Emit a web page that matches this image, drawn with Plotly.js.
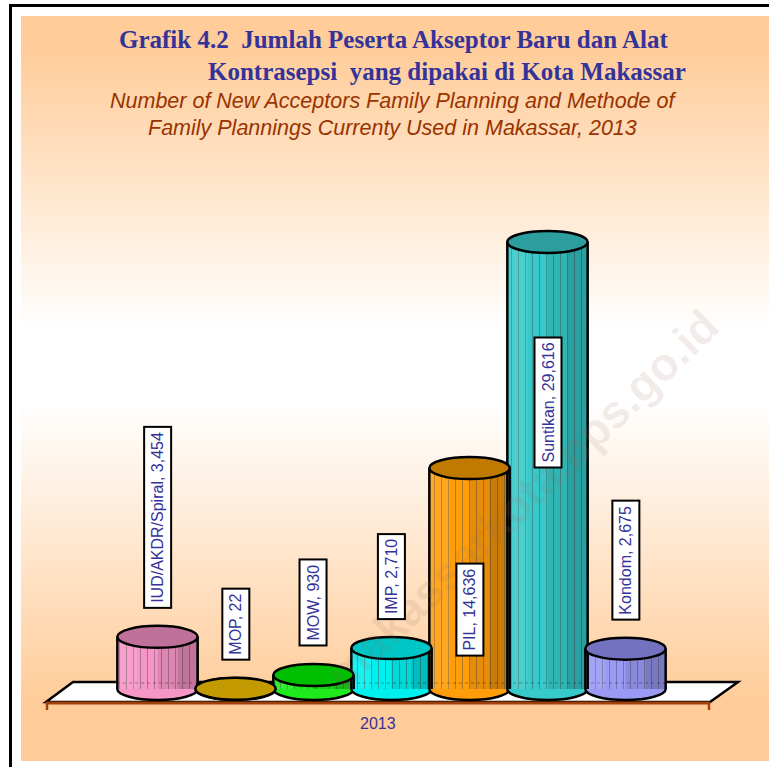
<!DOCTYPE html>
<html><head><meta charset="utf-8">
<script src="https://cdn.plot.ly/plotly-3.0.1.min.js"></script>
<style>
html,body{margin:0;padding:0;background:#fff;overflow:hidden;width:769px;height:767px;}
#frame{position:absolute;left:9px;top:4px;width:780px;height:780px;border-left:3px solid #000;border-top:3px solid #000;}
#bg{position:absolute;left:21px;top:16px;width:748px;height:745px;
background:linear-gradient(to bottom,#FFCC99 0%,#FFCD9B 5%,#FFFFFF 42%,#FFFFFF 52%,#FFCC99 92%,#FFCC99 100%);}
#chart{position:absolute;left:0;top:0;width:769px;height:767px;}
</style></head><body>
<div id="frame"></div><div id="bg"></div><div id="chart"></div>
<script>
// ---- data ----
const categories = ['IUD/AKDR/Spiral', 'MOP', 'MOW', 'IMP', 'PIL', 'Suntikan', 'Kondom'];
const values = [3454, 22, 930, 2710, 14636, 29616, 2675];
const yearLabel = '2013';
const titleLines = [
  'Grafik 4.2  Jumlah Peserta Akseptor Baru dan Alat',
  'Kontrasepsi  yang dipakai di Kota Makassar',
  'Number of New Acceptors Family Planning and Methode of',
  'Family Plannings Currenty Used in Makassar, 2013'
];
const watermark = 'makassarkota.bps.go.id';

// ---- styles ----
const bodyColors = ['#F596C6', '#C49C00', '#1EEA1E', '#00F0F0', '#FF9E0A', '#36CACA', '#9A9AF5'];
const topColors  = ['#BF7199', '#C39B00', '#00BF00', '#00C6C6', '#C07A00', '#2C9E9E', '#7272C0'];
const W = 1.03;          // cylinder width in category units
const CAP = 11;          // half height of ellipse caps, px

// pixel helpers for decoration placement (plot area: x 46..738, y 180..702)
const L = 46, T = 180, PW = 692, PH = 522;
const fx = px => (px - L) / PW;
const fy = py => (T + PH - py) / PH;

const idx = categories.map((c, i) => i);

const bar = {
  type: 'bar',
  x: categories,
  y: values,
  width: W,
  hoverinfo: 'skip',
  marker: {
    color: bodyColors,
    line: {width: 0},
    pattern: {shape: '|', fillmode: 'overlay', fgcolor: 'rgba(255,255,255,0.45)', size: 7, solidity: 0.12}
  }
};

const shapes = [];
// floor
shapes.push({type: 'path', xref: 'paper', yref: 'paper', layer: 'below',
  path: `M ${fx(46)},${fy(702)} L ${fx(73)},${fy(682)} L ${fx(738)},${fy(682)} L ${fx(710)},${fy(702)} Z`,
  fillcolor: '#FFFFFF', line: {color: '#000000', width: 2.5}});
shapes.push({type: 'line', xref: 'paper', yref: 'paper', layer: 'below',
  x0: fx(46), x1: fx(710), y0: fy(703), y1: fy(703), line: {color: '#A0400A', width: 3}});
[47, 709].forEach(px => shapes.push({type: 'line', xref: 'paper', yref: 'paper', layer: 'below',
  x0: fx(px), x1: fx(px), y0: fy(702), y1: fy(710), line: {color: '#A0400A', width: 2.5}}));
// dotted floor back edge seen through bars
shapes.push({type: 'line', xref: 'paper', yref: 'paper', layer: 'above',
  x0: fx(117), x1: fx(667), y0: fy(683), y1: fy(683), line: {color: 'rgba(0,0,0,0.35)', width: 1, dash: 'dot'}});

// bottom ellipses (below bars)
idx.forEach(i => shapes.push({type: 'circle', xref: 'x', yref: 'y', layer: 'below',
  x0: i - W / 2, x1: i + W / 2, ysizemode: 'pixel', yanchor: 0, y0: -CAP, y1: CAP,
  fillcolor: bodyColors[i], line: {color: '#000', width: 2.5}}));

// shading overlays (gradient impression)
idx.forEach(i => {
  shapes.push({type: 'rect', xref: 'x', yref: 'y', layer: 'above',
    x0: i, x1: i + W / 2, y0: 0, y1: values[i], fillcolor: 'rgba(0,0,0,0.10)', line: {width: 0}});
  shapes.push({type: 'rect', xref: 'x', yref: 'y', layer: 'above',
    x0: i + W * 0.25, x1: i + W / 2, y0: 0, y1: values[i], fillcolor: 'rgba(0,0,0,0.12)', line: {width: 0}});
  shapes.push({type: 'rect', xref: 'x', yref: 'y', layer: 'above',
    x0: i - W / 2, x1: i - W * 0.25, y0: 0, y1: values[i], fillcolor: 'rgba(255,255,255,0.10)', line: {width: 0}});
});
// side outlines
idx.forEach(i => [i - W / 2, i + W / 2].forEach(xx => shapes.push({type: 'line', xref: 'x', yref: 'y', layer: 'above',
  x0: xx, x1: xx, y0: 0, y1: values[i], line: {color: '#000', width: 2.5}})));
// top ellipses
idx.forEach(i => shapes.push({type: 'circle', xref: 'x', yref: 'y', layer: 'above',
  x0: i - W / 2, x1: i + W / 2, ysizemode: 'pixel', yanchor: values[i], y0: -CAP, y1: CAP,
  fillcolor: topColors[i], line: {color: '#000', width: 2.5}}));

const annotations = [];
// watermark first so labels sit above it
annotations.push({xref: 'paper', yref: 'paper', x: fx(522), y: fy(500), text: '<b>' + watermark + '</b>',
  showarrow: false, textangle: -44, xanchor: 'center', yanchor: 'middle',
  font: {family: 'Liberation Sans, Arial, sans-serif', size: 46, color: 'rgba(150,110,90,0.13)'}});

const labelFont = {family: 'Liberation Sans, Arial, sans-serif', size: 16, color: '#333399'};
idx.forEach(i => {
  const inside = values[i] > 10000;
  annotations.push({
    xref: 'x', yref: 'y', x: categories[i], y: values[i],
    text: categories[i] + ', ' + values[i].toLocaleString('en-US'),
    showarrow: false, textangle: -90,
    xanchor: 'center', yanchor: inside ? 'top' : 'bottom', yshift: inside ? -95 : 28,
    bgcolor: '#FFFFFF', bordercolor: '#000000', borderwidth: 2, borderpad: 4,
    font: labelFont
  });
});
annotations.push({xref: 'paper', yref: 'paper', x: fx(378), y: fy(723), text: yearLabel, showarrow: false,
  xanchor: 'center', yanchor: 'middle', font: labelFont});

const titleFont = {family: 'Liberation Serif, Times New Roman, serif', size: 25, color: '#333399', weight: 'bold'};
const subFont = {family: 'Liberation Sans, Arial, sans-serif', size: 21.5, color: '#993300', style: 'italic'};
[[394, 40, titleFont], [447, 71, titleFont], [393, 101, subFont], [393, 128, subFont]].forEach((p, k) => {
  annotations.push({xref: 'paper', yref: 'paper', x: fx(p[0]), y: fy(p[1]),
    text: k < 2 ? '<b>' + titleLines[k] + '</b>' : '<i>' + titleLines[k] + '</i>',
    showarrow: false, xanchor: 'center', yanchor: 'middle', font: p[2]});
});

const layout = {
  width: 769, height: 767,
  margin: {l: L, r: 769 - L - PW, t: T, b: 767 - T - PH, pad: 0},
  paper_bgcolor: 'rgba(0,0,0,0)', plot_bgcolor: 'rgba(0,0,0,0)',
  showlegend: false,
  xaxis: {type: 'category', range: [(46 - 157.5) / 78, (738 - 157.5) / 78], visible: false, fixedrange: true},
  yaxis: {range: [-13 * 29616 / 447, (689 - T) * 29616 / 447], visible: false, fixedrange: true},
  shapes: shapes,
  annotations: annotations
};

Plotly.newPlot('chart', [bar], layout, {displayModeBar: false, staticPlot: true});
</script>
</body></html>
